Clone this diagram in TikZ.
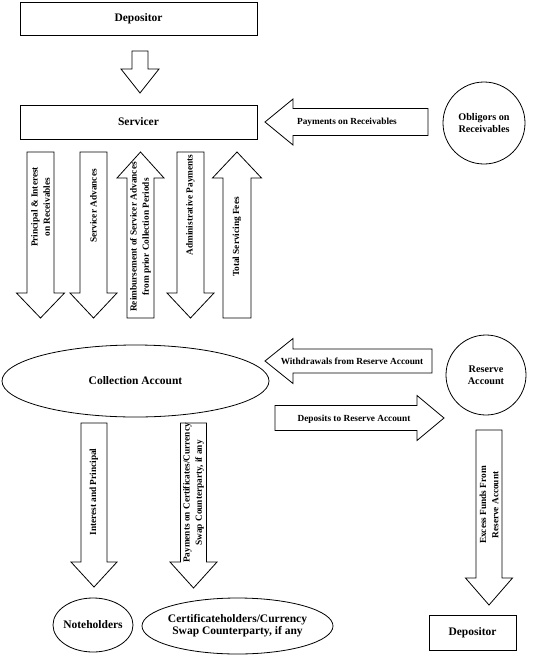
\documentclass[tikz,border=0pt]{standalone}
\usepackage{fontspec}
\setmainfont{Liberation Serif}
\usetikzlibrary{shapes.geometric}

\tikzset{
  boxlbl/.style={font=\fontsize{11.5}{12.3}\selectfont\bfseries, align=center},
  circlbl/.style={font=\fontsize{10.2}{12.3}\selectfont\bfseries, align=center},
  arrowlbl/.style={font=\fontsize{9.3}{12.3}\selectfont\bfseries, align=center, inner sep=0pt},
  pics/barrow/.style n args={4}{code={
    % #1 length, #2 half shaft, #3 half head, #4 head length
    \draw[fill=white] (0,-#2) -- ({#1-#4},-#2) -- ({#1-#4},-#3) -- (#1,0)
      -- ({#1-#4},#3) -- ({#1-#4},#2) -- (0,#2) -- cycle;
  }}
}

\begin{document}
\begin{tikzpicture}[x=1pt,y=1pt,line width=0.8pt]
    \useasboundingbox (0,0) rectangle (544,-662);

    % boxes and accounts
    \node[boxlbl, draw, minimum width=237, minimum height=33] (dep1) at (138.5,-18.5) {Depositor};
    \node[boxlbl, draw, minimum width=237, minimum height=34] (serv) at (138.5,-122) {Servicer};
    \node[circlbl, draw, circle, minimum size=82] (oblig) at (484,-123) {Obligors on\\Receivables};
    \node[boxlbl, draw, ellipse, minimum width=267, minimum height=72] (coll) at (135.5,-381) {Collection Account};
    \node[circlbl, draw, circle, minimum size=80] (resv) at (486,-375) {Reserve\\Account};
    \node[boxlbl, draw, minimum width=87, minimum height=35] (dep2) at (472.5,-632.5) {Depositor};
    \node[boxlbl] (noteh) at (93,-625) {Noteholders};
    \draw (noteh.center) ellipse [x radius=40, y radius=27];
    \node[boxlbl] (certh) at (237.5,-626) {Certificateholders/Currency\\Swap Counterparty, if any};
    \draw (certh.center) ellipse [x radius=95.5, y radius=28];

    % block arrows
    \pic[rotate=-90] at (140,-51) {barrow={42}{8}{19}{24}};
    \pic[rotate=180] at (428,-122) {barrow={163}{13.5}{23}{28}};
    \pic[rotate=-90] at (40.5,-152) {barrow={166}{13.5}{24}{25}};
    \pic[rotate=-90] at (93.5,-152) {barrow={166}{13.5}{23.5}{25}};
    \pic[rotate=90] at (140.5,-318) {barrow={166}{13.5}{23.5}{26}};
    \pic[rotate=-90] at (190.5,-152) {barrow={166}{13.5}{23.5}{25}};
    \pic[rotate=90] at (237,-318) {barrow={166}{14}{24.5}{26}};
    \pic[rotate=180] at (432,-361) {barrow={167}{12}{22.5}{28}};
    \pic at (275,-418) {barrow={169}{12.5}{22.5}{27}};
    \pic[rotate=-90] at (94,-423) {barrow={164}{13}{23}{25}};
    \pic[rotate=-90] at (193.5,-423) {barrow={165}{13}{23.5}{26}};
    \pic[rotate=-90] at (489,-430) {barrow={175}{13}{23.5}{27}};

    % arrow labels
    \node[arrowlbl] (payrec) at (347,-122) {Payments on Receivables};
    \node[arrowlbl, rotate=90] (prinint) at (40.5,-207) {Principal \& Interest\\on Receivables};
    \node[arrowlbl, rotate=90] (servadv) at (93.5,-206) {Servicer Advances};
    \node[arrowlbl, rotate=90] (reimb) at (140.5,-237) {Reimbursement of Servicer Advances\\from prior Collection Periods};
    \node[arrowlbl, rotate=90] (admin) at (190.5,-205) {Administrative Payments};
    \node[arrowlbl, rotate=90] (fees) at (237,-237) {Total Servicing Fees};
    \node[arrowlbl] (withdr) at (352,-361) {Withdrawals from Reserve Account};
    \node[arrowlbl] (depos) at (354,-419) {Deposits to Reserve Account};
    \node[arrowlbl, rotate=90] (intprin) at (94,-492) {Interest and Principal};
    \node[arrowlbl, rotate=90] (paycert) at (193.5,-493) {Payments on Certificates/Currency\\Swap Counterparty, if any};
    \node[arrowlbl, rotate=90] (excess) at (489,-505) {Excess Funds From\\Reserve Account};
\end{tikzpicture}
\end{document}
